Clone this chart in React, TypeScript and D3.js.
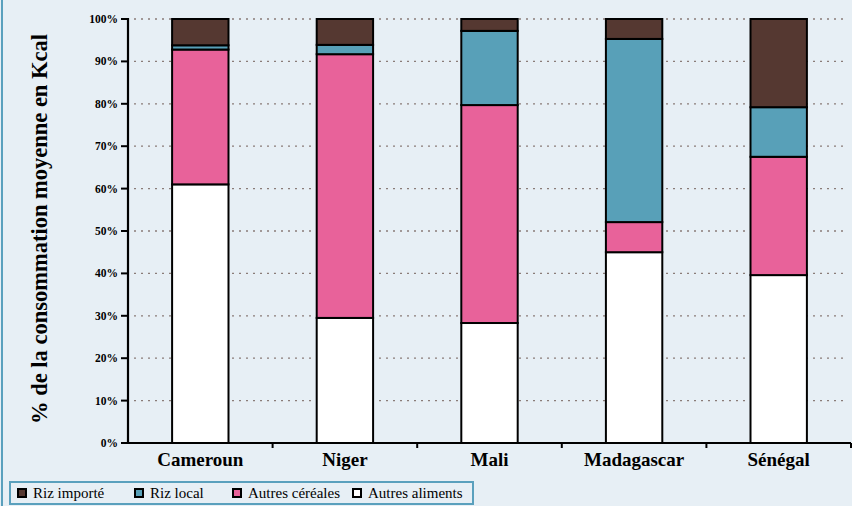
import * as d3 from "d3";

const countries = ["Cameroun", "Niger", "Mali", "Madagascar", "Sénégal"];
// bottom to top
const autresAliments = [61, 29.5, 28.3, 45, 39.6];
const autresCereales = [31.8, 62.2, 51.4, 7.1, 27.9];
const rizLocal = [1, 2.2, 17.5, 43.2, 11.7];
const rizImporte = [6.2, 6.1, 2.8, 4.7, 20.8];
const yTicks = [0, 10, 20, 30, 40, 50, 60, 70, 80, 90, 100];

const series = [
  { name: "Autres aliments", values: autresAliments, color: "#ffffff" },
  { name: "Autres céréales", values: autresCereales, color: "#e8629a" },
  { name: "Riz local", values: rizLocal, color: "#58a0b8" },
  { name: "Riz importé", values: rizImporte, color: "#553831" },
];
const legendOrder = [3, 2, 1, 0];

const width = 852;
const height = 506;
const marginLeft = 128;
const marginRight = 0;
const marginTop = 19;
const marginBottom = 63;

export default function App() {
  const x = d3
    .scaleBand<string>()
    .domain(countries)
    .range([marginLeft, width - marginRight - 1])
    .paddingInner(0.61)
    .paddingOuter(0.305);
  const xb = d3
    .scaleBand<string>()
    .domain(countries)
    .range([marginLeft, width - marginRight - 1]);
  const y = d3.scaleLinear([0, 100], [height - marginBottom, marginTop]);

  const stacks = countries.map((c, i) => {
    let acc = 0;
    return series.map((s) => {
      const y0 = acc;
      acc += s.values[i];
      return { y0, y1: acc, color: s.color };
    });
  });

  const serif = '"Liberation Serif", "DejaVu Serif", "Times New Roman", serif';
  const legendX = [18, 135, 233, 353];

  return (
    <svg
      width={width}
      height={height}
      style={{ position: "absolute", left: 0, top: 0, background: "#e7eff5", fontFamily: serif }}
    >
      <rect x={0} y={0} width={width} height={height} fill="#e7eff5" />
      <line x1={2} x2={2} y1={0} y2={height} stroke="#5aa0bd" strokeWidth={2} />

      {/* grid */}
      {yTicks.filter((t) => t > 0).map((t) => (
        <line
          key={t}
          x1={marginLeft + 6}
          x2={width - 6}
          y1={y(t)}
          y2={y(t)}
          stroke="#8a7c78"
          strokeWidth={1.3}
          strokeDasharray="2,5"
        />
      ))}

      {/* bars */}
      {countries.map((c, i) => (
        <g key={c}>
          {stacks[i].map((s, j) => (
            <rect
              key={j}
              x={x(c)!}
              y={y(s.y1)}
              width={x.bandwidth()}
              height={y(s.y0) - y(s.y1)}
              fill={s.color}
              stroke="#000"
              strokeWidth={2}
            />
          ))}
        </g>
      ))}

      {/* y axis */}
      <line
        x1={marginLeft}
        x2={marginLeft}
        y1={y(100) - 1}
        y2={y(0) + 1}
        stroke="#000"
        strokeWidth={2.2}
      />
      {yTicks.map((t) => (
        <g key={t}>
          <line x1={marginLeft - 7} x2={marginLeft} y1={y(t)} y2={y(t)} stroke="#000" strokeWidth={2} />
          <text
            x={marginLeft - 10}
            y={y(t)}
            dy="0.35em"
            textAnchor="end"
            fontSize={11.5}
            fontWeight="bold"
          >
            {t}%
          </text>
        </g>
      ))}

      {/* x axis */}
      <line
        x1={marginLeft}
        x2={width - 1}
        y1={y(0)}
        y2={y(0)}
        stroke="#000"
        strokeWidth={2.2}
      />
      {countries.map((c) => (
        <line
          key={c}
          x1={xb(c)! + xb.bandwidth()}
          x2={xb(c)! + xb.bandwidth()}
          y1={y(0)}
          y2={y(0) + 5}
          stroke="#000"
          strokeWidth={2}
        />
      ))}
      {countries.map((c) => (
        <text
          key={c}
          x={x(c)! + x.bandwidth() / 2}
          y={y(0) + 23}
          textAnchor="middle"
          fontSize={19}
          fontWeight="bold"
        >
          {c}
        </text>
      ))}

      <text
        transform={`translate(47,${(y(0) + y(100)) / 2 - 2}) rotate(-90)`}
        textAnchor="middle"
        fontSize={22.5}
        fontWeight="bold"
      >
        % de la consommation moyenne en Kcal
      </text>

      {/* legend */}
      <rect x={10} y={482} width={463} height={22} fill="none" stroke="#5aa0bd" strokeWidth={2} />
      {legendOrder.map((k, i) => (
        <g key={k} transform={`translate(${legendX[i]},493)`}>
          <rect x={0} y={-4} width={8} height={8} fill={series[k].color} stroke="#000" strokeWidth={2} />
          <text x={15} y={0} dy="0.35em" fontSize={15}>
            {series[k].name}
          </text>
        </g>
      ))}
    </svg>
  );
}
